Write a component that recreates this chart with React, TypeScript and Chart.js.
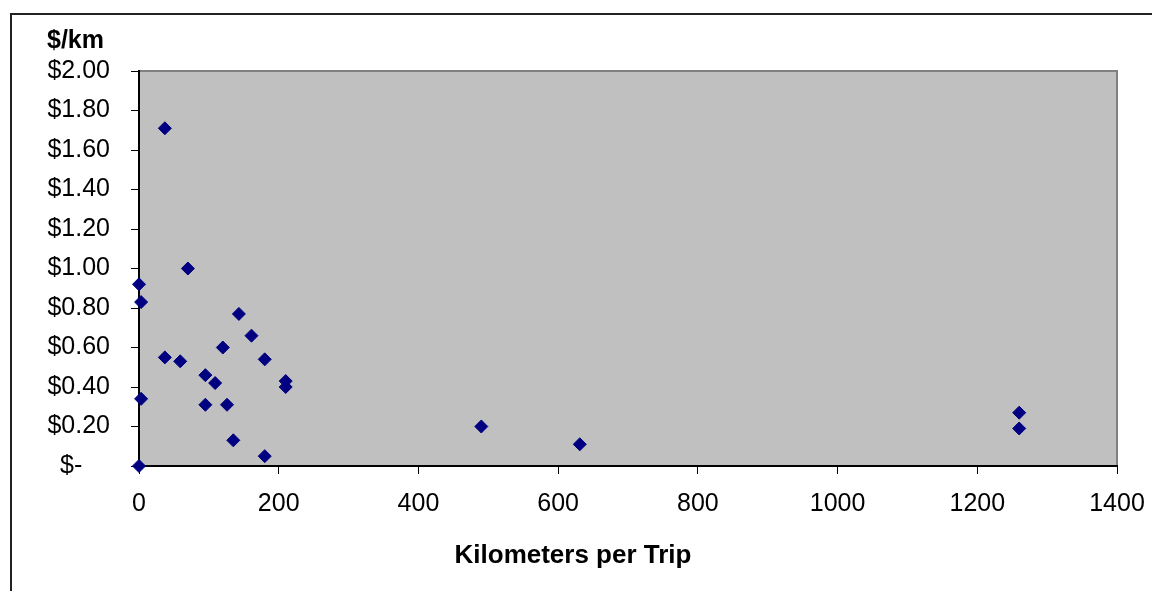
import React, { useEffect, useRef } from "react";
import { Chart, registerables } from "chart.js";

Chart.register(...registerables);

const kmPerTrip: number[] = [
  0, 3, 70, 37, 143, 161, 37, 59, 120, 180, 95, 109, 210, 210, 3, 95, 126, 135, 180, 0, 490, 631, 1260, 1260,
];
const dollarsPerKm: number[] = [
  0.92, 0.83, 1.0, 1.71, 0.77, 0.66, 0.55, 0.53, 0.6, 0.54, 0.46, 0.42, 0.43, 0.4, 0.34, 0.31, 0.31, 0.13, 0.05, 0.0,
  0.2, 0.11, 0.27, 0.19,
];
const xTickValues: number[] = [0, 200, 400, 600, 800, 1000, 1200, 1400];
const yTickValues: number[] = [0, 0.2, 0.4, 0.6, 0.8, 1.0, 1.2, 1.4, 1.6, 1.8, 2.0];
const yTitle = "$/km";
const xTitle = "Kilometers per Trip";

const FONT = "'Liberation Sans', Arial, sans-serif";

export default function App() {
  const ref = useRef<HTMLCanvasElement | null>(null);

  useEffect(() => {
    if (!ref.current) return;
    const points = kmPerTrip.map((x, i) => ({ x, y: dollarsPerKm[i] }));

    const decor = {
      id: "decor",
      beforeDraw(chart: any) {
        const { ctx, chartArea } = chart;
        ctx.save();
        ctx.fillStyle = "#C0C0C0";
        ctx.fillRect(chartArea.left, chartArea.top, chartArea.right - chartArea.left, chartArea.bottom - chartArea.top);
        ctx.strokeStyle = "#808080";
        ctx.lineWidth = 2;
        ctx.beginPath();
        ctx.moveTo(chartArea.left, chartArea.top);
        ctx.lineTo(chartArea.right, chartArea.top);
        ctx.lineTo(chartArea.right, chartArea.bottom);
        ctx.stroke();
        ctx.restore();
      },
      afterDraw(chart: any) {
        const { ctx } = chart;
        ctx.save();
        ctx.strokeStyle = "#222222";
        ctx.lineWidth = 2;
        ctx.beginPath();
        ctx.moveTo(11, 600);
        ctx.lineTo(11, 14);
        ctx.lineTo(1160, 14);
        ctx.stroke();
        ctx.fillStyle = "#000";
        ctx.textBaseline = "middle";
        ctx.textAlign = "left";
        ctx.font = `bold 25px ${FONT}`;
        ctx.fillText(yTitle, 47, 41);
        ctx.textAlign = "center";
        ctx.font = `bold 26px ${FONT}`;
        ctx.fillText(xTitle, 573, 556);
        ctx.restore();
      },
    };

    const chart = new Chart(ref.current, {
      type: "scatter",
      data: {
        datasets: [
          {
            data: points,
            clip: false,
            pointStyle: "rectRot",
            pointRadius: 6.5,
            pointBackgroundColor: "#000080",
            pointBorderColor: "#000080",
            pointBorderWidth: 1,
          },
        ],
      },
      options: {
        animation: false,
        responsive: false,
        layout: { padding: { top: 71, right: 35, left: 0, bottom: 0 } },
        plugins: { legend: { display: false }, tooltip: { enabled: false }, title: { display: false } },
        scales: {
          x: {
            type: "linear",
            min: 0,
            max: 1400,
            afterFit(scale: any) {
              scale.height = 125;
              scale.paddingRight = 0;
            },
            afterBuildTicks(scale: any) {
              scale.ticks = xTickValues.map((v) => ({ value: v }));
            },
            grid: { drawOnChartArea: false, drawTicks: true, tickLength: 8, color: "#000", lineWidth: 1 },
            border: { display: true, color: "#000", width: 2 },
            ticks: {
              padding: 15,
              color: "#000",
              font: { family: FONT, size: 25 },
              maxRotation: 0,
              callback: (v: any) => String(v),
            },
          },
          y: {
            type: "linear",
            min: 0,
            max: 2,
            afterFit(scale: any) {
              scale.width = 139;
            },
            afterBuildTicks(scale: any) {
              scale.ticks = yTickValues.map((v) => ({ value: v }));
            },
            grid: { drawOnChartArea: false, drawTicks: true, tickLength: 8, color: "#000", lineWidth: 1 },
            border: { display: true, color: "#000", width: 2 },
            ticks: {
              padding: 21,
              color: "#000",
              font: { family: FONT, size: 25 },
              callback: (v: any) => (Number(v) === 0 ? "$-    " : "$" + Number(v).toFixed(2)),
            },
          },
        },
      },
      plugins: [decor],
    });
    return () => chart.destroy();
  }, []);

  return (
    <div style={{ position: "absolute", left: 0, top: 0, width: 1152, height: 591, background: "#fff" }}>
      <canvas ref={ref} width={1152} height={591} style={{ display: "block", width: 1152, height: 591 }} />
    </div>
  );
}
